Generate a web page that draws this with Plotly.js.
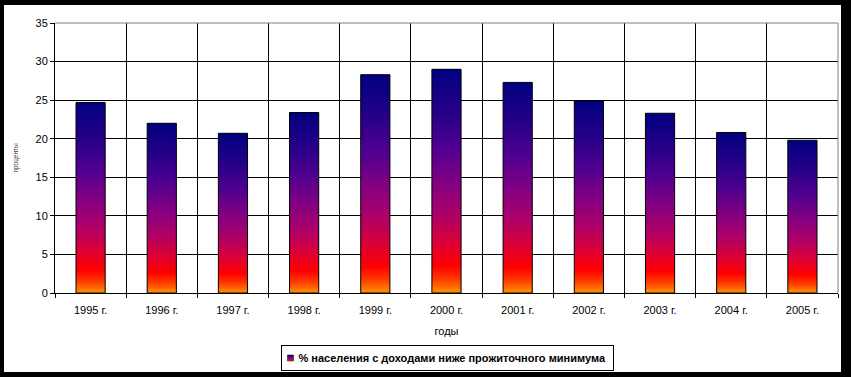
<!DOCTYPE html>
<html>
<head>
<meta charset="utf-8">
<script src="https://cdn.plot.ly/plotly-3.0.1.min.js"></script>
<style>
  html, body { margin: 0; padding: 0; width: 851px; height: 377px; background: #000; overflow: hidden; }
  #chart { position: absolute; left: 4px; top: 5px; width: 837px; height: 367px; background: #fff; }
</style>
</head>
<body>
<div id="chart"></div>
<script>
const years = ["1995 г.", "1996 г.", "1997 г.", "1998 г.", "1999 г.", "2000 г.", "2001 г.", "2002 г.", "2003 г.", "2004 г.", "2005 г."];
const povertyShare = [24.7, 22.0, 20.7, 23.4, 28.3, 29.0, 27.3, 24.9, 23.3, 20.8, 19.8];
const seriesName = "<b>% населения с доходами ниже прожиточного минимума</b>";
const xTitle = "годы";
const yTitle = "проценты";
const yTicks = [0, 5, 10, 15, 20, 25, 30, 35];

const font = { family: "Liberation Sans, Arial, sans-serif", size: 11, color: "#000" };

const trace = {
  type: "bar",
  x: years,
  y: povertyShare,
  name: seriesName,
  width: 0.41,
  marker: { color: "#800080", line: { color: "#000", width: 1 } },
  showlegend: true,
  hoverinfo: "x+y"
};

const layout = {
  width: 837,
  height: 367,
  margin: { l: 51, r: 3, t: 18, b: 79 },
  paper_bgcolor: "#fff",
  plot_bgcolor: "#fff",
  font: font,
  showlegend: true,
  xaxis: {
    type: "category",
    tickson: "boundaries",
    showgrid: true,
    gridcolor: "#000",
    gridwidth: 1,
    showline: true,
    linecolor: "#000",
    linewidth: 1,
    ticks: "outside",
    ticklen: 4,
    tickcolor: "#000",
    ticklabelstandoff: 7,
    tickfont: font,
    title: { text: xTitle, font: font, standoff: 12 },
    automargin: false,
    fixedrange: true
  },
  yaxis: {
    range: [0, 35],
    tickvals: yTicks,
    showgrid: true,
    gridcolor: "#000",
    gridwidth: 1,
    zeroline: false,
    showline: true,
    linecolor: "#000",
    linewidth: 1,
    ticks: "outside",
    ticklen: 4,
    tickcolor: "#000",
    tickfont: font,
    title: { text: yTitle, font: { family: font.family, size: 6.5, color: "#333" }, standoff: 16 },
    automargin: false,
    fixedrange: true
  },
  legend: {
    orientation: "h",
    xref: "container",
    yref: "container",
    x: 0.5436,
    xanchor: "center",
    y: 0.0804,
    yanchor: "top",
    bordercolor: "#000",
    borderwidth: 1,
    bgcolor: "#fff",
    font: { family: font.family, size: 11, color: "#000" },
    itemwidth: 30
  },
  shapes: [
    { type: "line", xref: "paper", yref: "paper", x0: 0, x1: 1, y0: 1, y1: 1, line: { color: "#808080", width: 1 }, layer: "above" },
    { type: "line", xref: "paper", yref: "paper", x0: 1, x1: 1, y0: 0, y1: 1, line: { color: "#808080", width: 1 }, layer: "above" }
  ]
};

Plotly.newPlot("chart", [trace], layout, { displayModeBar: false, staticPlot: true }).then(function (gd) {
  const svgNS = "http://www.w3.org/2000/svg";
  const svg = gd.querySelector(".main-svg");
  let defs = svg.querySelector("defs");
  if (!defs) { defs = document.createElementNS(svgNS, "defs"); svg.insertBefore(defs, svg.firstChild); }
  const grad = document.createElementNS(svgNS, "linearGradient");
  grad.setAttribute("id", "fireGrad");
  grad.setAttribute("x1", "0"); grad.setAttribute("y1", "0");
  grad.setAttribute("x2", "0"); grad.setAttribute("y2", "1");
  const stops = [
    [0, "#000080"], [0.2, "#280088"], [0.36, "#520090"], [0.52, "#860080"],
    [0.66, "#b00066"], [0.78, "#dc0034"], [0.88, "#ff0000"], [0.94, "#ff3c00"], [1, "#ff9400"]
  ];
  stops.forEach(function (s) {
    const st = document.createElementNS(svgNS, "stop");
    st.setAttribute("offset", s[0]);
    st.setAttribute("stop-color", s[1]);
    grad.appendChild(st);
  });
  defs.appendChild(grad);
  gd.querySelectorAll(".barlayer .point path, .legend .legendpoints path").forEach(function (p) {
    p.style.fill = "url(#fireGrad)";
  });

  // compact legend: shorter box, smaller swatch next to the text
  const bg = gd.querySelector(".legend rect.bg");
  const txt = gd.querySelector(".legend text.legendtext");
  const sym = gd.querySelector(".legend .legendpoints path");
  if (bg && txt && sym) {
    bg.setAttribute("width", parseFloat(bg.getAttribute("width")) - 22);
    bg.setAttribute("height", parseFloat(bg.getAttribute("height")) - 5);
    bg.setAttribute("y", (parseFloat(bg.getAttribute("y")) || 0) + 2.5);
    txt.setAttribute("x", parseFloat(txt.getAttribute("x")) - 24);
    const tb = txt.getBoundingClientRect();
    const sb = sym.getBoundingClientRect();
    const cx = sb.left + sb.width / 2;
    const want = tb.left - 8;
    const base = sym.getAttribute("transform") || "";
    sym.setAttribute("transform", base + " translate(" + (want - cx) + ",0) scale(0.5)");
    sym.style.strokeWidth = "1px";
    sym.style.stroke = "#000";
  }
});
</script>
</body>
</html>
